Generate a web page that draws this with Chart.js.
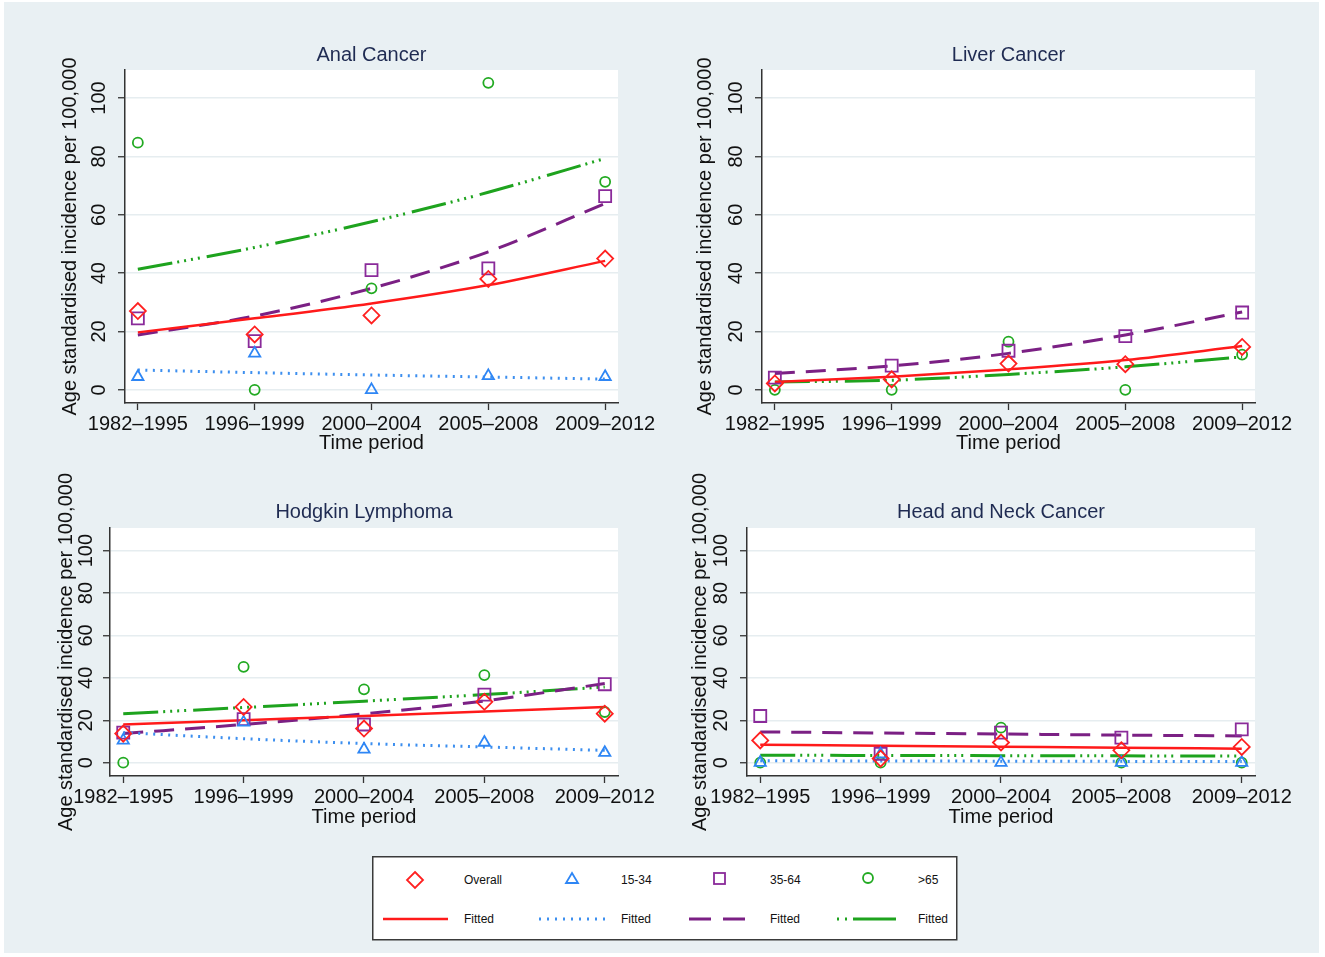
<!DOCTYPE html>
<html>
<head>
<meta charset="utf-8">
<script src="https://cdn.jsdelivr.net/npm/chart.js@4.4.1/dist/chart.umd.min.js"></script>
<style>
body { margin: 0; background: #fff; width: 1325px; height: 957px; position: relative; overflow: hidden; font-family: "Liberation Sans", Arial, sans-serif; }
#bg { position: absolute; left: 4px; top: 2px; width: 1315px; height: 951px; background: #e9f0f3; }
canvas { position: absolute; }
.ptitle { position: absolute; width: 400px; text-align: center; font-size: 20px; line-height: 24px; color: #1f2b52; white-space: nowrap; }
#legend { position: absolute; left: 372px; top: 856px; }
#legend text { font-family: "Liberation Sans", Arial, sans-serif; font-size: 12px; fill: #111; }
</style>
</head>
<body>
<div id="bg"></div>
<canvas id="anal"></canvas>
<canvas id="liver"></canvas>
<canvas id="hodgkin"></canvas>
<canvas id="headneck"></canvas>

<svg id="legend" width="586" height="85">
  <rect x="0.75" y="0.75" width="584" height="83" fill="#fff" stroke="#3a3a3a" stroke-width="1.5"/>
  <polygon points="43,16 51,24 43,32 35,24" fill="none" stroke="#ff2020" stroke-width="1.8"/>
  <text x="92" y="28">Overall</text>
  <polygon points="200,17 206,27 194,27" fill="none" stroke="#2e86f5" stroke-width="1.8"/>
  <text x="249" y="28">15-34</text>
  <rect x="342" y="17" width="11" height="11" fill="none" stroke="#8a2a9a" stroke-width="1.8"/>
  <text x="398" y="28">35-64</text>
  <circle cx="496" cy="22" r="5" fill="none" stroke="#22aa22" stroke-width="1.8"/>
  <text x="546" y="28">&gt;65</text>
  <line x1="11" y1="63" x2="76" y2="63" stroke="#ff1a1a" stroke-width="2.5"/>
  <text x="92" y="67">Fitted</text>
  <line x1="167" y1="63" x2="234" y2="63" stroke="#3d8fef" stroke-width="3" stroke-dasharray="2,6"/>
  <text x="249" y="67">Fitted</text>
  <line x1="317" y1="63" x2="374" y2="63" stroke="#7b2084" stroke-width="3" stroke-dasharray="22,12"/>
  <text x="398" y="67">Fitted</text>
  <line x1="465" y1="63" x2="526" y2="63" stroke="#1ea31e" stroke-width="3" stroke-dasharray="2,6,2,6,43"/>
  <text x="546" y="67">Fitted</text>
</svg>

<script>
// ---- Data ----
const periods = ['1982\u20131995', '1996\u20131999', '2000\u20132004', '2005\u20132008', '2009\u20132012'];
const yTicks = [0, 20, 40, 60, 80, 100];

// Anal Cancer
const analOverall = [27, 19, 25.5, 38, 45];
const anal1534 = [4.5, 12.5, 0, 4.8, 4.5];
const anal3564 = [24.5, 16.7, 41, 41.6, 66.4];
const anal65 = [84.7, 0, 34.8, 105.2, 71.3];
const analFitOverall = [19.7, 24.5, 29.6, 35.9, 44.2];
const analFit1534 = [6.8, 5.9, 5.1, 4.4, 3.7];
const analFit3564 = [18.8, 25.3, 34.8, 47.3, 63.9];
const analFit65 = [41.3, 48.8, 57.6, 67.7, 79.3];

// Liver Cancer
const liverOverall = [2.2, 3.6, 9, 8.8, 14.7];
const liver1534 = null;
const liver3564 = [4.2, 8.3, 13.4, 18.4, 26.5];
const liver65 = [0, 0, 16.5, 0, 12.1];
const liverFitOverall = [2.7, 4.5, 7, 10.2, 15];
const liverFit1534 = null;
const liverFit3564 = [5.6, 8.2, 12.5, 18.8, 26.7];
const liverFit65 = [2.7, 3.3, 5.3, 7.9, 11.3];

// Hodgkin Lymphoma
const hodgOverall = [13.7, 26.3, 16.1, 28.7, 23.1];
const hodg1534 = [10.5, 19, 6.3, 9.5, 4.7];
const hodg3564 = [14.2, 20.5, 18, 32.1, 37];
const hodg65 = [0, 45.2, 34.6, 41.3, 23.9];
const hodgFitOverall = [18, 20, 22, 24.1, 26.3];
const hodgFit1534 = [14.2, 11.3, 9, 7.4, 5.8];
const hodgFit3564 = [13.7, 18, 23, 29.1, 37.3];
const hodgFit65 = [23.1, 26, 29, 32.1, 35.7];

// Head and Neck Cancer
const hnOverall = [10.5, 1.9, 9.5, 5.8, 7.4];
const hn1534 = [0, 4, 0, 0, 0];
const hn3564 = [22, 4.2, 14.2, 11.8, 15.7];
const hn65 = [0, 0, 16.5, 0, 0];
const hnFitOverall = [8.5, 8, 7.5, 7, 6.6];
const hnFit1534 = [0.9, 0.8, 0.7, 0.6, 0.5];
const hnFit3564 = [14.5, 14, 13.5, 13, 12.6];
const hnFit65 = [3.5, 3.4, 3.3, 3.2, 3.1];

// ---- Styles ----
const FONT = '"Liberation Sans", Arial, sans-serif';
const groups = [
    { color: '#ff2020', line: '#ff1a1a', style: 'rectRot', radius: 8, dash: [], width: 2.5 },
    { color: '#2e86f5', line: '#3d8fef', style: 'triangle', radius: 6.5, dash: [2, 5.5], width: 3 },
    { color: '#8a2a9a', line: '#7b2084', style: 'rect', radius: 8.5, dash: [20, 11], width: 3 },
    { color: '#22aa22', line: '#1ea31e', style: 'circle', radius: 5, dash: [35, 5, 2, 5, 2, 5, 2, 5, 2, 7], width: 3 }
];

function toPoints(values) {
    return values.map((v, i) => ({ x: i, y: v }));
}

// White plot region behind the data
const plotBg = {
    id: 'plotBg',
    beforeDraw(chart) {
        const { ctx, chartArea: a } = chart;
        ctx.save();
        ctx.fillStyle = '#fff';
        ctx.fillRect(a.left, a.top, a.right - a.left, a.bottom - a.top);
        ctx.restore();
    }
};

// Build one panel; geometry is in page pixels
function makePanel(id, title, markers, fits, g) {
    const canvas = document.getElementById(id);
    const left = g.yTitleX - 14;
    const top = g.titleY - 42;
    const xH = g.timeY - g.b + 12;
    const padBottom = 12;
    const width = g.r - left + 45;
    const height = g.b - top + xH + padBottom;
    canvas.style.left = left + 'px';
    canvas.style.top = top + 'px';
    canvas.width = width;
    canvas.height = height;

    // panel title as HTML text centred over the plot region
    const t = document.createElement('div');
    t.className = 'ptitle';
    t.textContent = title;
    t.style.left = ((g.l + g.r) / 2 - 200) + 'px';
    t.style.top = (g.titleY - 12) + 'px';
    document.body.appendChild(t);

    const datasets = [];
    markers.forEach((vals, k) => {
        if (!vals) return;
        const s = groups[k];
        datasets.push({
            data: toPoints(vals), showLine: false, order: 0,
            pointStyle: s.style, pointRadius: s.radius, pointHoverRadius: s.radius,
            pointBorderColor: s.color, pointBackgroundColor: 'rgba(0,0,0,0)',
            pointBorderWidth: 1.8, borderColor: s.color
        });
    });
    fits.forEach((vals, k) => {
        if (!vals) return;
        const s = groups[k];
        datasets.push({
            data: toPoints(vals), order: 1,
            borderColor: s.line, borderWidth: s.width, borderDash: s.dash,
            borderCapStyle: 'butt', pointRadius: 0, fill: false,
            cubicInterpolationMode: 'monotone'
        });
    });

    new Chart(canvas, {
        type: 'line',
        data: { datasets: datasets },
        plugins: [plotBg],
        options: {
            responsive: false,
            animation: false,
            events: [],
            layout: { padding: { left: 0, top: g.t - top, right: 45, bottom: padBottom } },
            plugins: {
                legend: { display: false },
                tooltip: { enabled: false },
                title: { display: false }
            },
            scales: {
                x: {
                    type: 'linear', min: -0.11, max: 4.11,
                    afterBuildTicks: s => { s.ticks = periods.map((p, i) => ({ value: i })); },
                    afterFit: s => { s.height = xH; s.paddingLeft = 0; s.paddingRight = 0; },
                    ticks: {
                        callback: v => periods[v], color: '#111', padding: 2,
                        maxRotation: 0, minRotation: 0, autoSkip: false,
                        font: { family: FONT, size: 20 }
                    },
                    grid: { drawOnChartArea: false, tickLength: 7, tickColor: '#333', tickWidth: 1.3 },
                    border: { color: '#333', width: 1.5 },
                    title: {
                        display: true, text: 'Time period', color: '#111',
                        font: { family: FONT, size: 20 }, padding: { top: 0, bottom: 0 }
                    }
                },
                y: {
                    type: 'linear', min: g.yMin, max: g.yMax,
                    afterBuildTicks: s => { s.ticks = yTicks.map(v => ({ value: v })); },
                    afterFit: s => { s.width = g.l - left; s.paddingTop = 0; s.paddingBottom = 0; },
                    ticks: {
                        color: '#111', padding: g.l - 7 - g.yTickX - 16.5,
                        minRotation: 90, maxRotation: 90, crossAlign: 'center',
                        font: { family: FONT, size: 20 }
                    },
                    grid: { color: '#e6edf0', lineWidth: 1.5, tickLength: 7, tickColor: '#333', tickWidth: 1.3 },
                    border: { color: '#333', width: 1.5 },
                    title: {
                        display: true, text: 'Age standardised incidence per 100,000', color: '#111',
                        font: { family: FONT, size: 20 }, padding: { top: 2, bottom: 0 }
                    }
                }
            }
        }
    });
}

makePanel('anal', 'Anal Cancer',
    [analOverall, anal1534, anal3564, anal65],
    [analFitOverall, analFit1534, analFit3564, analFit65],
    { l: 125, r: 618, t: 70, b: 403, titleY: 54, yTitleX: 70, yTickX: 100, timeY: 443, yMin: -4.5, yMax: 109.6 });

makePanel('liver', 'Liver Cancer',
    [liverOverall, liver1534, liver3564, liver65],
    [liverFitOverall, liverFit1534, liverFit3564, liverFit65],
    { l: 762, r: 1255, t: 70, b: 403, titleY: 54, yTitleX: 705, yTickX: 737, timeY: 443, yMin: -4.5, yMax: 109.6 });

makePanel('hodgkin', 'Hodgkin Lymphoma',
    [hodgOverall, hodg1534, hodg3564, hodg65],
    [hodgFitOverall, hodgFit1534, hodgFit3564, hodgFit65],
    { l: 110, r: 618, t: 528, b: 776, titleY: 511, yTitleX: 66, yTickX: 87, timeY: 817, yMin: -6.3, yMax: 110.7 });

makePanel('headneck', 'Head and Neck Cancer',
    [hnOverall, hn1534, hn3564, hn65],
    [hnFitOverall, hnFit1534, hnFit3564, hnFit65],
    { l: 747, r: 1255, t: 528, b: 776, titleY: 511, yTitleX: 700, yTickX: 722, timeY: 817, yMin: -6.3, yMax: 110.7 });
</script>
</body>
</html>
